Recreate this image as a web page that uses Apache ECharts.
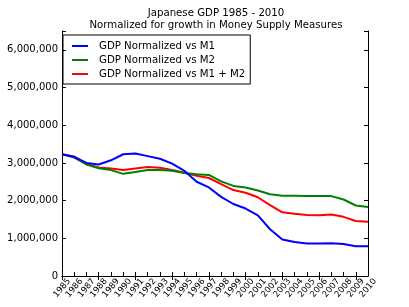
<!DOCTYPE html>
<html><head><meta charset="utf-8">
<script src="https://cdn.jsdelivr.net/npm/echarts@6/dist/echarts.min.js"></script>
<style>html,body{margin:0;padding:0;background:#fff}#c{width:409px;height:307px}</style>
</head><body><div id="c"></div>
<script>
const years = ["1985","1986","1987","1988","1989","1990","1991","1992","1993","1994","1995","1996","1997","1998","1999","2000","2001","2002","2003","2004","2005","2006","2007","2008","2009","2010"];
const seriesNames = ["GDP Normalized vs M1","GDP Normalized vs M2","GDP Normalized vs M1 + M2"];
const vsM1 = [3230000,3160000,3000000,2960000,3070000,3230000,3250000,3180000,3110000,2980000,2790000,2500000,2350000,2100000,1910000,1790000,1610000,1240000,970000,900000,860000,860000,870000,850000,790000,790000];
const vsM2 = [3230000,3140000,2960000,2860000,2810000,2710000,2760000,2810000,2810000,2790000,2730000,2700000,2680000,2510000,2390000,2350000,2270000,2170000,2130000,2130000,2120000,2120000,2120000,2030000,1870000,1830000];
const vsM1M2 = [3230000,3170000,2970000,2880000,2850000,2810000,2850000,2890000,2870000,2810000,2740000,2660000,2600000,2440000,2280000,2210000,2090000,1880000,1690000,1650000,1620000,1610000,1630000,1570000,1460000,1440000];
const yTicks = [0,1000000,2000000,3000000,4000000,5000000,6000000];
const titleLines = ["Japanese GDP 1985 - 2010","Normalized for growth in Money Supply Measures"];

const F = "DejaVu Sans";
const chart = echarts.init(document.getElementById('c'), null, {renderer:'canvas'});
const fmt = v => v.toLocaleString('en-US');
const colors = ['#0000ff','#008000','#ff0000'];
const datas = [vsM1, vsM2, vsM1M2];
const axisLineStyle = {show:true, lineStyle:{color:'#000', width:1}};
chart.setOption({
  animation:false,
  title:{text:titleLines.join('\n'), left:216, textAlign:'center', top:7, padding:0,
    textStyle:{fontFamily:F, fontSize:10.2, fontWeight:'normal', color:'#000', lineHeight:12}},
  legend:{orient:'vertical', left:63, top:35, data:seriesNames, icon:'rect', itemWidth:16, itemHeight:2,
    itemGap:4, borderColor:'#000', borderWidth:1, padding:[6,5,5,9],
    textStyle:{fontFamily:F, fontSize:10.2, color:'#000', padding:[0,0,0,6]}},
  grid:{left:62, right:41, top:31, bottom:31, containLabel:false},
  xAxis:[{type:'category', data:years, boundaryGap:false, axisLine:axisLineStyle,
    axisTick:{show:true, inside:true, length:4, lineStyle:{color:'#000'}},
    axisLabel:{rotate:50, interval:0, fontFamily:F, fontSize:8.5, color:'#000', margin:12, align:'center', verticalAlign:'middle'}, splitLine:{show:false}},
   {type:'category', data:years, boundaryGap:false, position:'top', axisLine:axisLineStyle,
    axisTick:{show:true, inside:true, length:4, lineStyle:{color:'#000'}}, axisLabel:{show:false}}],
  yAxis:[{type:'value', min:0, max:6500000, interval:1000000, axisLine:axisLineStyle,
    axisTick:{show:true, inside:true, length:4, lineStyle:{color:'#000'}},
    axisLabel:{fontFamily:F, fontSize:10, color:'#000', margin:4, formatter:v=> yTicks.includes(v)? fmt(v):''},
    splitLine:{show:false}},
   {type:'value', min:0, max:6500000, interval:1000000, position:'right', axisLine:axisLineStyle,
    axisTick:{show:true, inside:true, length:4, lineStyle:{color:'#000'}}, axisLabel:{show:false}, splitLine:{show:false}}],
  series: seriesNames.map((n,i)=>({name:n, type:'line', data:datas[i], showSymbol:false, symbol:'none',
    lineStyle:{color:colors[i], width:2}, itemStyle:{color:colors[i]}, z:10-i}))
});
</script></body></html>
